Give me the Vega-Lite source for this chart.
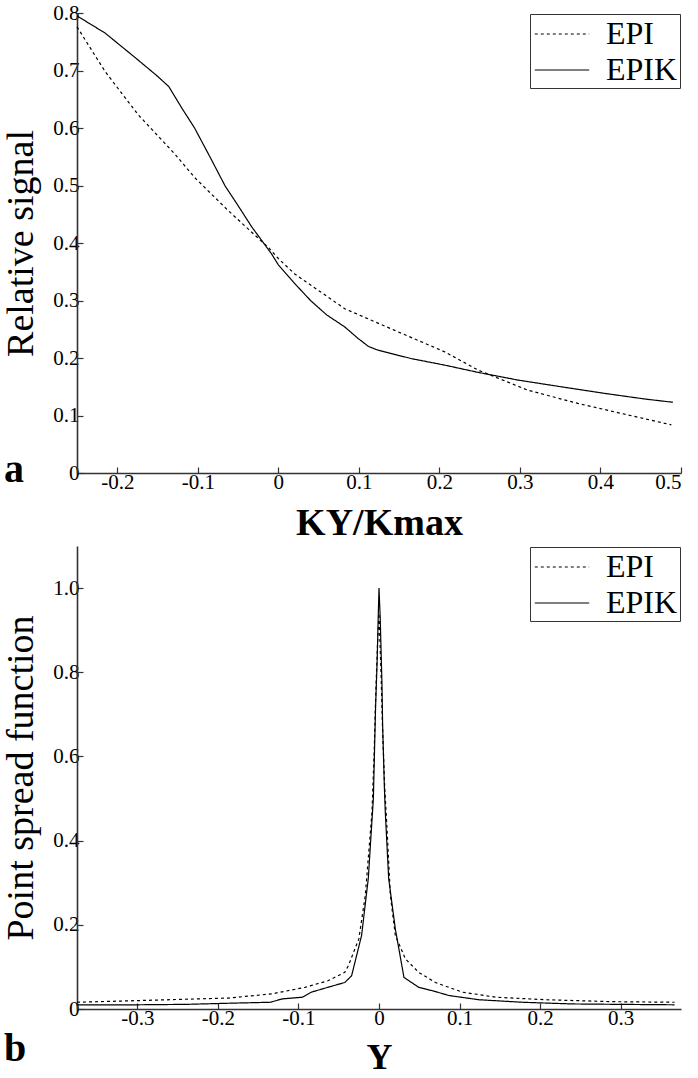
{
  "$schema": "https://vega.github.io/schema/vega-lite/v6.json",
  "background": "white",
  "padding": {"left": 2, "top": 2, "right": 4, "bottom": 0},
  "spacing": 4,
  "resolve": {"scale": {"strokeDash": "independent"}, "legend": {"strokeDash": "independent"}},
  "config": {
    "view": {"stroke": null},
    "font": "Liberation Serif",
    "axis": {
      "labelFont": "Liberation Serif", "labelFontSize": 21, "labelColor": "black",
      "titleFont": "Liberation Serif", "titleColor": "black", "titleFontSize": 38, "titleFontWeight": "normal",
      "domainColor": "#333", "domainWidth": 1.6, "tickColor": "#333", "tickWidth": 1.2, "tickSize": -6,
      "grid": false, "labelPadding": 4
    },
    "legend": {
      "orient": "top-right", "offset": 1, "strokeColor": "#333", "fillColor": "white", "padding": 2,
      "labelFont": "Liberation Serif", "labelFontSize": 32, "labelColor": "black", "labelOffset": 26,
      "symbolType": "M-1.6,0H1.6", "symbolSize": 1156, "symbolOffset": 12, "symbolStrokeColor": "black", "symbolStrokeWidth": 1.2,
      "rowPadding": 2
    },
    "title": {"font": "Liberation Serif", "fontSize": 40, "fontWeight": "bold", "color": "black"}
  },
  "vconcat": [
    {
      "width": 604, "height": 460,
      "title": {"text": "a", "orient": "bottom", "anchor": "start", "frame": "group", "dx": -73, "offset": -92},
      "data": {"values": [
        {"k": -0.25, "v": 0.776, "s": "EPI"}, {"k": -0.215, "v": 0.698, "s": "EPI"}, {"k": -0.174, "v": 0.623, "s": "EPI"},
        {"k": -0.128, "v": 0.554, "s": "EPI"}, {"k": -0.104, "v": 0.514, "s": "EPI"}, {"k": -0.062, "v": 0.456, "s": "EPI"},
        {"k": -0.0127, "v": 0.3926, "s": "EPI"}, {"k": 0, "v": 0.373, "s": "EPI"}, {"k": 0.0205, "v": 0.346, "s": "EPI"},
        {"k": 0.0825, "v": 0.2857, "s": "EPI"}, {"k": 0.1445, "v": 0.248, "s": "EPI"}, {"k": 0.2066, "v": 0.2107, "s": "EPI"},
        {"k": 0.248, "v": 0.179, "s": "EPI"}, {"k": 0.31, "v": 0.144, "s": "EPI"}, {"k": 0.372, "v": 0.121, "s": "EPI"},
        {"k": 0.434, "v": 0.101, "s": "EPI"}, {"k": 0.488, "v": 0.0837, "s": "EPI"},
        {"k": -0.25, "v": 0.795, "s": "EPIK"}, {"k": -0.215, "v": 0.765, "s": "EPIK"}, {"k": -0.18, "v": 0.725, "s": "EPIK"},
        {"k": -0.15, "v": 0.69, "s": "EPIK"}, {"k": -0.136, "v": 0.672, "s": "EPIK"}, {"k": -0.12, "v": 0.635, "s": "EPIK"},
        {"k": -0.104, "v": 0.6, "s": "EPIK"}, {"k": -0.085, "v": 0.55, "s": "EPIK"}, {"k": -0.066, "v": 0.499, "s": "EPIK"},
        {"k": -0.05, "v": 0.465, "s": "EPIK"}, {"k": -0.033, "v": 0.428, "s": "EPIK"}, {"k": -0.0084, "v": 0.381, "s": "EPIK"},
        {"k": 0, "v": 0.362, "s": "EPIK"}, {"k": 0.02, "v": 0.33, "s": "EPIK"}, {"k": 0.04, "v": 0.3, "s": "EPIK"},
        {"k": 0.06, "v": 0.275, "s": "EPIK"}, {"k": 0.0825, "v": 0.254, "s": "EPIK"}, {"k": 0.099, "v": 0.234, "s": "EPIK"},
        {"k": 0.112, "v": 0.22, "s": "EPIK"}, {"k": 0.124, "v": 0.2135, "s": "EPIK"}, {"k": 0.165, "v": 0.199, "s": "EPIK"},
        {"k": 0.2066, "v": 0.1876, "s": "EPIK"}, {"k": 0.248, "v": 0.175, "s": "EPIK"}, {"k": 0.2976, "v": 0.1616, "s": "EPIK"},
        {"k": 0.351, "v": 0.15, "s": "EPIK"}, {"k": 0.405, "v": 0.1385, "s": "EPIK"}, {"k": 0.455, "v": 0.1287, "s": "EPIK"},
        {"k": 0.49, "v": 0.123, "s": "EPIK"}
      ]},
      "mark": {"type": "line", "color": "black", "strokeWidth": 1.2},
      "encoding": {
        "x": {"field": "k", "type": "quantitative",
              "scale": {"domain": [-0.25, 0.5], "nice": false, "zero": false},
              "axis": {"values": [-0.2, -0.1, 0, 0.1, 0.2, 0.3, 0.4, 0.5], "title": "KY/Kmax", "titleFontWeight": "bold", "titlePadding": 12,
                       "labelFont": "Liberation Serif", "labelFontSize": 21, "labelColor": "black",
                       "labelExpr": "datum.value == 0 ? '0' : (datum.value < 0 ? '-' + format(-datum.value, '.1f') : format(datum.value, '.1f'))"}},
        "y": {"field": "v", "type": "quantitative",
              "scale": {"domain": [0, 0.8], "nice": false},
              "axis": {"values": [0, 0.1, 0.2, 0.3, 0.4, 0.5, 0.6, 0.7, 0.8], "title": "Relative signal", "titlePadding": 12,
                       "labelFont": "Liberation Serif", "labelFontSize": 21, "labelColor": "black",
                       "labelExpr": "datum.value == 0 ? '0' : format(datum.value, '.1f')"}},
        "strokeDash": {"field": "s", "type": "nominal",
              "scale": {"domain": ["EPI", "EPIK"], "range": [[3, 3], [1, 0]]},
              "legend": {"title": null}}
      }
    },
    {
      "width": 604, "height": 463,
      "title": {"text": "b", "orient": "bottom", "anchor": "start", "frame": "group", "dx": -73, "offset": -46},
      "data": {"values": [
        {"k": -0.375, "v": 0.016, "s": "EPI"}, {"k": -0.299, "v": 0.02, "s": "EPI"}, {"k": -0.187, "v": 0.026, "s": "EPI"},
        {"k": -0.133, "v": 0.036, "s": "EPI"}, {"k": -0.092, "v": 0.0515, "s": "EPI"}, {"k": -0.0635, "v": 0.067, "s": "EPI"},
        {"k": -0.0425, "v": 0.087, "s": "EPI"}, {"k": -0.038, "v": 0.103, "s": "EPI"}, {"k": -0.025, "v": 0.167, "s": "EPI"},
        {"k": -0.017, "v": 0.27, "s": "EPI"}, {"k": -0.0087, "v": 0.468, "s": "EPI"}, {"k": -0.006, "v": 0.611, "s": "EPI"},
        {"k": -0.004, "v": 0.75, "s": "EPI"}, {"k": -0.002, "v": 0.86, "s": "EPI"}, {"k": 0, "v": 0.94, "s": "EPI"},
        {"k": 0.0025, "v": 0.8, "s": "EPI"}, {"k": 0.0045, "v": 0.66, "s": "EPI"}, {"k": 0.007, "v": 0.53, "s": "EPI"},
        {"k": 0.0099, "v": 0.43, "s": "EPI"}, {"k": 0.0141, "v": 0.27, "s": "EPI"}, {"k": 0.0203, "v": 0.175, "s": "EPI"},
        {"k": 0.0328, "v": 0.119, "s": "EPI"}, {"k": 0.0494, "v": 0.087, "s": "EPI"}, {"k": 0.07, "v": 0.063, "s": "EPI"},
        {"k": 0.1035, "v": 0.04, "s": "EPI"}, {"k": 0.145, "v": 0.028, "s": "EPI"}, {"k": 0.207, "v": 0.022, "s": "EPI"},
        {"k": 0.29, "v": 0.0174, "s": "EPI"}, {"k": 0.367, "v": 0.016, "s": "EPI"},
        {"k": -0.375, "v": 0.01, "s": "EPIK"}, {"k": -0.3, "v": 0.01, "s": "EPIK"}, {"k": -0.24, "v": 0.011, "s": "EPIK"},
        {"k": -0.18, "v": 0.014, "s": "EPIK"}, {"k": -0.135, "v": 0.016, "s": "EPIK"}, {"k": -0.12, "v": 0.024, "s": "EPIK"},
        {"k": -0.095, "v": 0.028, "s": "EPIK"}, {"k": -0.084, "v": 0.04, "s": "EPIK"}, {"k": -0.0635, "v": 0.0515, "s": "EPIK"},
        {"k": -0.0425, "v": 0.063, "s": "EPIK"}, {"k": -0.034, "v": 0.079, "s": "EPIK"}, {"k": -0.0216, "v": 0.175, "s": "EPIK"},
        {"k": -0.0133, "v": 0.31, "s": "EPIK"}, {"k": -0.007, "v": 0.5, "s": "EPIK"}, {"k": -0.0043, "v": 0.714, "s": "EPIK"},
        {"k": -0.0022, "v": 0.833, "s": "EPIK"}, {"k": -0.001, "v": 0.93, "s": "EPIK"}, {"k": 0, "v": 1.0, "s": "EPIK"},
        {"k": 0.0015, "v": 0.93, "s": "EPIK"}, {"k": 0.0037, "v": 0.77, "s": "EPIK"}, {"k": 0.0045, "v": 0.675, "s": "EPIK"},
        {"k": 0.0066, "v": 0.532, "s": "EPIK"}, {"k": 0.0078, "v": 0.468, "s": "EPIK"}, {"k": 0.012, "v": 0.31, "s": "EPIK"},
        {"k": 0.0203, "v": 0.19, "s": "EPIK"}, {"k": 0.031, "v": 0.075, "s": "EPIK"}, {"k": 0.0494, "v": 0.0515, "s": "EPIK"},
        {"k": 0.066, "v": 0.0436, "s": "EPIK"}, {"k": 0.087, "v": 0.032, "s": "EPIK"}, {"k": 0.124, "v": 0.022, "s": "EPIK"},
        {"k": 0.178, "v": 0.016, "s": "EPIK"}, {"k": 0.24, "v": 0.012, "s": "EPIK"}, {"k": 0.3, "v": 0.011, "s": "EPIK"},
        {"k": 0.367, "v": 0.01, "s": "EPIK"}
      ]},
      "mark": {"type": "line", "color": "black", "strokeWidth": 1.2},
      "encoding": {
        "x": {"field": "k", "type": "quantitative",
              "scale": {"domain": [-0.375, 0.375], "nice": false, "zero": false},
              "axis": {"values": [-0.3, -0.2, -0.1, 0, 0.1, 0.2, 0.3], "title": "Y", "titleFontWeight": "bold", "titleFontSize": 36, "titlePadding": 12,
                       "labelFont": "Liberation Serif", "labelFontSize": 21, "labelColor": "black",
                       "labelExpr": "datum.value == 0 ? '0' : (datum.value < 0 ? '-' + format(-datum.value, '.1f') : format(datum.value, '.1f'))"}},
        "y": {"field": "v", "type": "quantitative",
              "scale": {"domain": [0, 1.1], "nice": false},
              "axis": {"values": [0, 0.2, 0.4, 0.6, 0.8, 1.0], "title": "Point spread function", "titlePadding": 12,
                       "labelFont": "Liberation Serif", "labelFontSize": 21, "labelColor": "black",
                       "labelExpr": "datum.value == 0 ? '0' : format(datum.value, '.1f')"}},
        "strokeDash": {"field": "s", "type": "nominal",
              "scale": {"domain": ["EPI", "EPIK"], "range": [[3, 3], [1, 0]]},
              "legend": {"title": null}}
      }
    }
  ]
}
